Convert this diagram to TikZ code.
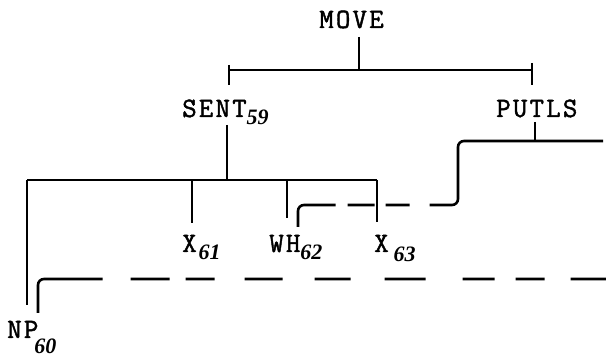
\documentclass[tikz,border=0pt]{standalone}
\usepackage{fontspec}
\setmonofont{Latin Modern Mono}[LetterSpace=8, FakeBold=1.6]
\newfontfamily\digfont{Liberation Serif}
\newcommand{\lblidx}[2][-8pt]{\raisebox{#1}{\digfont\bfseries\itshape\fontsize{22}{22}\selectfont #2}}
\begin{document}
\begin{tikzpicture}[x=1pt, y=-1pt, line width=2.6pt,
    lbl/.style={anchor=base west, inner sep=0pt, font=\ttfamily\fontsize{28}{28}\selectfont}]
    \useasboundingbox (0,0) rectangle (606,358);
    % labels
    \node[lbl] (move) at (318,28) {MOVE};
    \node[lbl] (sent) at (181,117) {SENT\lblidx{59}};
    \node[lbl] (putls) at (495,117) {PUTLS};
    \node[lbl] (x61) at (181,252) {X\kern2pt\lblidx{61}};
    \node[lbl] (wh62) at (268,252) {WH\lblidx{62}};
    \node[lbl] (x63) at (373,252) {X\hspace{5pt}\lblidx[-10pt]{63}};
    \node[lbl] (np60) at (6,338) {NP\kern-4pt\lblidx[-16pt]{60}};
    % junctions
    \coordinate (m0) at (359,37);   \coordinate (m1) at (359,70);
    \coordinate (bl) at (229,70);   \coordinate (br) at (532,70);
    \coordinate (s0) at (227,125);  \coordinate (s1) at (227,180);
    \coordinate (cl) at (27,180);   \coordinate (cr) at (377,180);
    \coordinate (p0) at (535,122);  \coordinate (p1) at (535,141);
    \coordinate (pl) at (458,141);  \coordinate (pr) at (603,141);
    \coordinate (np) at (27,305);   \coordinate (a61) at (192,223);
    \coordinate (a62) at (287,218); \coordinate (a63) at (377,222);
    \coordinate (h62) at (298,227); \coordinate (h60) at (38,313);
    \coordinate (e60) at (606,279); \coordinate (k62) at (458,205);
    % tree
    \draw (m0) -- (m1);
    \draw (bl) -- (br);
    \draw (229,65) -- (229,85); \draw (532,63) -- (532,85);
    \draw (s0) -- (s1);
    \draw (cl) -- (cr);
    \draw (cl) -- (np);
    \draw (a61 |- cl) -- (a61);
    \draw (a62 |- cl) -- (a62);
    \draw (a63 |- cl) -- (a63);
    \draw (p0) -- (p1);
    % moved parts
    \draw[rounded corners=6pt, dash pattern=on 57pt off 12pt on 27pt off 11pt on 24pt off 20pt on 400pt]
        (h62) |- (k62) |- (pr);
    \draw[rounded corners=6pt, dash pattern=on 96pt off 28pt on 39pt off 16pt on 29pt off 30pt on 38pt off 32pt on 36pt off 34pt on 41pt off 37pt on 32pt off 21pt on 29pt off 26pt on 60pt]
        (h60) |- (e60);
\end{tikzpicture}
\end{document}
